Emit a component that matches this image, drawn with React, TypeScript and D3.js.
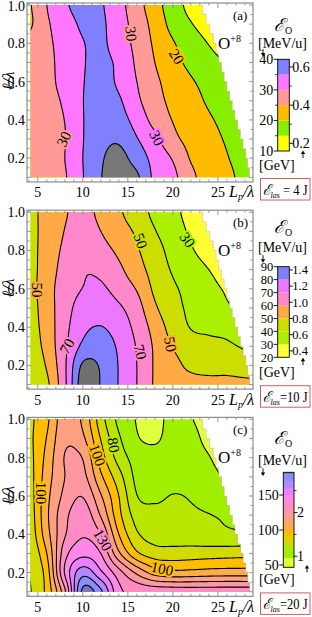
import React, { useMemo } from 'react';
import * as d3 from 'd3';

// sample points of the energy maps: L_p/λ columns, ℓ/λ rows (top to bottom)
const lpCols = [4, 6, 8, 10, 12, 14, 16, 18, 20, 22, 24, 26, 28, 30];
const ellRows = [1.0, 0.9, 0.8, 0.7, 0.6, 0.5, 0.4, 0.3, 0.2, 0.1];

// (a) E_las = 4 J, O+8 energy [MeV/u]
const gridA = [
  [24.5, 30, 34.2, 37, 35.5, 31.7, 27, 22, 17.4, 13.5, 11, 9, 8, 7],
  [24.2, 29.3, 32.6, 35.8, 35.8, 32.1, 28, 23.2, 18.4, 15.3, 12.5, 10, 8.5, 7.5],
  [26.5, 29, 32, 34.8, 35.8, 32.6, 28.6, 24.2, 20.4, 17.6, 14.8, 12.5, 10.5, 9],
  [27, 28.6, 32, 34.7, 36, 34, 29.2, 25, 21.6, 18.8, 16.6, 14.8, 13, 11.5],
  [27.2, 28.5, 31.8, 34.8, 36.6, 34.2, 30, 26, 23, 20.5, 18.4, 16.4, 14.6, 13],
  [27.4, 28.3, 30.8, 34.9, 37, 35.6, 31, 26.8, 23.8, 21.6, 19.4, 17.6, 16, 14.5],
  [27.5, 28.2, 30.1, 34.8, 37.5, 37, 33, 28.3, 24.8, 22.5, 20.5, 18.8, 17, 15.5],
  [27.6, 28, 29.8, 34.8, 38.5, 39.3, 35.3, 31.2, 26.4, 23.4, 21.3, 19.6, 18, 16.5],
  [27.6, 28, 30, 35, 39.4, 41.5, 37.8, 33.2, 29.6, 24.6, 22, 20.2, 18.6, 17.2],
  [27.5, 28, 29.6, 34.8, 39.8, 42.5, 40.8, 33.8, 31.2, 26.3, 22.5, 20.8, 19, 17.5],
];

// (b) E_las = 10 J
const gridB = [
  [46.5, 54, 59, 64, 57, 51.3, 45, 37.5, 32.4, 27, 23, 20, 18, 16],
  [46.5, 54, 60.3, 66, 60, 54, 48.5, 40.5, 34.5, 28.6, 24, 21, 19, 17],
  [46.5, 54.5, 61.8, 67, 63.5, 58, 51, 44, 36.5, 31, 26, 22.5, 20, 18],
  [46.5, 55, 63.5, 69.3, 68, 62, 54, 46, 39, 34.5, 30, 26, 23, 21],
  [46.5, 55.8, 65, 70.2, 71.5, 66, 59.3, 48, 41.5, 37, 32.5, 29, 26, 24],
  [46, 55.2, 66, 74, 76, 71.5, 64, 51.5, 43.5, 38, 34.5, 31.2, 28.5, 26],
  [45.5, 54.5, 67, 77.5, 80.3, 75.5, 67, 56, 46, 39.6, 38.5, 37.5, 35, 33],
  [44, 53.5, 68, 82, 85, 78.5, 69.3, 58.5, 49.5, 44, 42, 41.3, 39, 37],
  [42, 51, 68.5, 91.5, 89, 79.5, 70, 59, 53.5, 47.5, 46, 46.5, 45, 44],
  [40, 48, 68, 95, 89.5, 79.5, 70, 59, 55.5, 54, 53, 52.5, 52, 51.5],
];

// (c) E_las = 20 J
const gridC = [
  [88, 98, 116, 108, 84.5, 67.5, 59.5, 57, 63, 60.5, 56, 52, 50, 48],
  [88, 100.5, 118, 112, 89.5, 71.5, 61, 58.5, 64, 63, 57, 53, 51, 49],
  [87, 103, 120.5, 119.5, 95, 76, 66, 64, 65.5, 65, 60.5, 55, 52, 50],
  [86, 105, 120, 123, 102, 84, 67.5, 66, 67.5, 67, 63, 59, 55, 53],
  [85, 107, 122.5, 129.5, 111, 90, 70.3, 68.5, 70.3, 69.3, 66, 62, 58, 56],
  [84, 108, 127, 136, 119, 93, 76, 72.5, 73, 71.5, 70.3, 68.5, 66, 64],
  [83, 106, 129, 139, 130, 100, 81.5, 76, 75, 74.5, 73, 72, 71.5, 71],
  [81, 100, 136, 147, 140, 112, 92, 85, 84.5, 85, 85.5, 86, 86.5, 87],
  [80, 95, 141, 166, 152, 134, 118, 106, 103, 103.5, 104.5, 105, 105, 105],
  [79, 93, 128, 183, 172, 143, 138, 136.5, 136, 135.5, 135.5, 135.5, 135.5, 135.5],
];

const levelsA = [15, 20, 25, 30, 35, 40];
const colorsA = ['#ffff00', '#88ee00', '#ffbb00', '#ff9a96', '#ff77ff', '#8080ff', '#777777'];
const levelsB = [30, 40, 50, 60, 70, 80, 90];
const colorsB = ['#ffff33', '#aaf000', '#ccdd00', '#ffaa44', '#ff88cc', '#ee77ff', '#7f7fff', '#707070'];
const levelsC = [50, 60, 70, 80, 90, 100, 110, 120, 130, 140, 150, 160, 170, 180];
const colorsC = ['#eeff00', '#e0ff40', '#a0ee00', '#b8e600', '#d4da00', '#ffbf00', '#ffad4a', '#ffa080',
  '#ff98a0', '#ff8cc4', '#ff88ea', '#e880ff', '#b488ff', '#8c8cff', '#7878b8'];

// stepped upper-right border of the simulated region
const edgeEll = [1.0, 0.95, 0.9, 0.85, 0.8, 0.75, 0.7, 0.65, 0.6, 0.55, 0.5, 0.45, 0.4, 0.35, 0.3, 0.25, 0.2, 0.15];
const edgeLp = [23.3, 23.7, 24.1, 24.5, 24.8, 25.1, 25.4, 25.7, 26.0, 26.3, 26.6, 26.9, 27.2, 27.5, 27.8, 28.1, 28.3, 28.5];

const xTicks = [5, 10, 15, 20, 25];
const yTicks = [0.2, 0.4, 0.6, 0.8, 1.0];

type Lbl = { t: string; lp: number; ell: number; rot: number };
const labelsA: Lbl[] = [
  { t: '30', lp: 7.9, ell: 0.3, rot: -65 },
  { t: '30', lp: 15.35, ell: 0.85, rot: 85 },
  { t: '20', lp: 20.4, ell: 0.73, rot: 58 },
  { t: '30', lp: 18.2, ell: 0.305, rot: 62 },
];
const labelsB: Lbl[] = [
  { t: '50', lp: 4.9, ell: 0.594, rot: 90 },
  { t: '50', lp: 16.4, ell: 0.85, rot: 70 },
  { t: '30', lp: 21.6, ell: 0.855, rot: 55 },
  { t: '70', lp: 8.25, ell: 0.3, rot: -60 },
  { t: '70', lp: 16.35, ell: 0.27, rot: 75 },
  { t: '50', lp: 19.7, ell: 0.31, rot: 80 },
];
const labelsC: Lbl[] = [
  { t: '100', lp: 5.3, ell: 0.616, rot: 90 },
  { t: '100', lp: 11.6, ell: 0.814, rot: 70 },
  { t: '80', lp: 13.4, ell: 0.866, rot: 80 },
  { t: '130', lp: 12.2, ell: 0.37, rot: 60 },
  { t: '100', lp: 18.8, ell: 0.22, rot: 12 },
];

// colour bar axes: MeV/u on the left, GeV on the right
const cbLeftA = [10, 20, 30, 40];
const cbLeftMinorA = [15, 25, 35];
const cbRightA = [0.2, 0.4, 0.6];
const cbRightMinorA = [0.3, 0.5];
const cbLeftB = [20, 30, 40, 50, 60, 70, 80, 90];
const cbRightB = [0.4, 0.6, 0.8, 1.0, 1.2, 1.4];
const cbLeftC = [50, 100, 150];
const cbRightC = [1, 2];
const cbRightMinorC = [1.5, 2.5];

const energies = [' = 4 J', '=10 J', '=20 J'];
const tags = ['(a)', '(b)', '(c)'];

const FONT = "'Liberation Serif', 'Times New Roman', serif";
const K = 8;
const PAD = 3;

const xPlot = d3.scaleLinear().domain([3.8, 28.9]).range([27, 253]);

function cubic(p0: number, p1: number, p2: number, p3: number, t: number) {
  const t2 = t * t, t3 = t2 * t;
  return 0.5 * (2 * p1 + (-p0 + p2) * t + (2 * p0 - 5 * p1 + 4 * p2 - p3) * t2 + (-p0 + 3 * p1 - 3 * p2 + p3) * t3);
}

function makeSampler(grid: number[][]) {
  const ny = grid.length, nx = grid[0].length;
  const g = (r: number, c: number) => grid[Math.min(ny - 1, Math.max(0, r))][Math.min(nx - 1, Math.max(0, c))];
  return (fr: number, fc: number) => {
    fr = Math.max(0, Math.min(ny - 1, fr));
    fc = Math.max(0, Math.min(nx - 1, fc));
    const r = Math.min(Math.floor(fr), ny - 2), c = Math.min(Math.floor(fc), nx - 2);
    const tr = fr - r, tc = fc - c;
    const rv = [-1, 0, 1, 2].map(dr => cubic(g(r + dr, c - 1), g(r + dr, c), g(r + dr, c + 1), g(r + dr, c + 2), tc));
    return cubic(rv[0], rv[1], rv[2], rv[3], tr);
  };
}

const lpStep = lpCols[1] - lpCols[0];
const ellStep = ellRows[1] - ellRows[0];
const colOf = (lp: number) => (lp - lpCols[0]) / lpStep;
const rowOf = (ell: number) => (ell - ellRows[0]) / ellStep;

function buildField(grid: number[][], levels: number[]) {
  const sample = makeSampler(grid);
  const nx = grid[0].length, ny = grid.length;
  const W = (nx - 1) * K + 1 + 2 * PAD;
  const H = (ny - 1) * K + 1 + 2 * PAD;
  const values = new Array(W * H);
  for (let j = 0; j < H; j++) {
    for (let i = 0; i < W; i++) {
      values[j * W + i] = sample((j - PAD) / K, (i - PAD) / K);
    }
  }
  const contours = d3.contours().size([W, H]).thresholds(levels)(values);
  return { contours, sample };
}

type Cb = { x0: number; x1: number; y0: number; y1: number; lo: number; hi: number; lfs: number;
  left: number[]; leftMinor: number[]; right: number[]; rightMinor: number[]; fmt: (v: number) => string };

type Cfg = { idx: number; oy: number; grid: number[][]; levels: number[]; colors: string[]; labels: Lbl[];
  cb: Cb; titleY: number; mevY: number; downY: number; upY: number; upX: number };

const panels: Cfg[] = [
  { idx: 0, oy: 0, grid: gridA, levels: levelsA, colors: colorsA, labels: labelsA,
    cb: { x0: 277.7, x1: 289.3, y0: 59.3, y1: 151, lo: 10, hi: 40, lfs: 14, left: cbLeftA, leftMinor: cbLeftMinorA,
      right: cbRightA, rightMinor: cbRightMinorA, fmt: d3.format('.1f') },
    titleY: 31, mevY: 47.5, downY: 49, upY: 158, upX: 303 },
  { idx: 1, oy: 207.2, grid: gridB, levels: levelsB, colors: colorsB, labels: labelsB,
    cb: { x0: 277.7, x1: 289.3, y0: 59.5, y1: 150.1, lo: 20, hi: 90, lfs: 12.5, left: cbLeftB, leftMinor: [],
      right: cbRightB, rightMinor: [], fmt: d3.format('.1f') },
    titleY: 26, mevY: 45, downY: 48, upY: 158, upX: 303 },
  { idx: 2, oy: 414.4, grid: gridC, levels: levelsC, colors: colorsC, labels: labelsC,
    cb: { x0: 283.3, x1: 294, y0: 57.9, y1: 152.9, lo: 46.7, hi: 182.5, lfs: 14, left: cbLeftC, leftMinor: [],
      right: cbRightC, rightMinor: cbRightMinorC, fmt: d3.format('d') },
    titleY: 30, mevY: 51, downY: 54, upY: 158, upX: 307 },
];

const Panel: React.FC<{ cfg: Cfg }> = ({ cfg }) => {
  const { oy, levels, colors, cb } = cfg;
  const y = d3.scaleLinear().domain([0.1, 1.0]).range([oy + 177.35, oy + 5]);
  const fTop = y(1.0) - 2;
  const fBot = y(0.1) + 4.6;
  const field = useMemo(() => buildField(cfg.grid, levels), [cfg]);

  const proj = d3.geoTransform({
    point(px: number, py: number) {
      const lp = lpCols[0] + ((px - 0.5 - PAD) / K) * lpStep;
      const ell = ellRows[0] + ((py - 0.5 - PAD) / K) * ellStep;
      (this as any).stream.point(xPlot(lp), y(ell));
    },
  });
  const geo = d3.geoPath(proj);

  let mask = `M${xPlot(4.2)},${y(1.0)}`;
  let edge = `M${xPlot(edgeLp[0])},${y(1.0)}`;
  edgeEll.forEach((e, i) => {
    mask += `H${xPlot(edgeLp[i])}V${y(Math.max(0.1, e - 0.05))}`;
    edge += `V${y(Math.max(0.1, e - 0.05))}`;
    if (i + 1 < edgeLp.length) edge += `H${xPlot(edgeLp[i + 1])}`;
  });
  mask += `H${xPlot(4.2)}Z`;
  const clipId = `clip${cfg.idx}`;

  const cbY = d3.scaleLinear().domain([cb.lo, cb.hi]).range([oy + cb.y1, oy + cb.y0]);
  const bandEdges = [cb.lo, ...levels.filter(l => l > cb.lo && l < cb.hi), cb.hi];
  const firstBand = d3.bisectRight(levels, cb.lo);

  const lpMinor = d3.range(4, 29);
  const ellMinor = d3.range(0.1, 1.0001, 0.05);

  return (
    <g>
      <defs>
        <clipPath id={clipId}><path d={mask} /></clipPath>
      </defs>
      <g clipPath={`url(#${clipId})`}>
        <rect x={xPlot(4)} y={y(1.02)} width={xPlot(29) - xPlot(4)} height={y(0.08) - y(1.02)} fill={colors[0]} />
        {field.contours.map((c, i) => (
          <path key={'f' + i} d={geo(c as any) || ''} fill={colors[i + 1]} stroke="none" />
        ))}
        {field.contours.map((c, i) => (
          <path key={'l' + i} d={geo(c as any) || ''} fill="none" stroke="#000" strokeWidth={1.1} />
        ))}
        {cfg.labels.map((l, i) => {
          const v = field.sample(rowOf(l.ell), colOf(l.lp));
          const halo = colors[d3.bisectRight(levels, v)];
          return (
            <text key={'t' + i} transform={`translate(${xPlot(l.lp)},${y(l.ell)}) rotate(${l.rot})`}
              textAnchor="middle" dominantBaseline="central" fontFamily={FONT} fontSize={15}
              fill="#000" stroke={halo} strokeWidth={4} paintOrder="stroke">{l.t}</text>
          );
        })}
      </g>
      <path d={edge} fill="none" stroke="#e0a0c0" strokeWidth={0.8} strokeDasharray="1.5,1" />

      {/* frame and ticks */}
      <rect x={27} y={fTop} width={226} height={fBot - fTop} fill="none" stroke="#8c8c8c" strokeWidth={1.2} />
      {lpMinor.map(v => {
        const len = v % 5 === 0 ? 5 : 2.5;
        const xx = xPlot(v);
        return (
          <g key={'xt' + v} stroke="#8c8c8c" strokeWidth={0.9}>
            <line x1={xx} x2={xx} y1={fBot} y2={fBot - len} />
            <line x1={xx} x2={xx} y1={fTop} y2={fTop + len} />
          </g>
        );
      })}
      {ellMinor.map((v, i) => {
        const len = i % 2 === 0 ? 4 : 2.5;
        const yy = y(v);
        return (
          <g key={'yt' + i} stroke="#8c8c8c" strokeWidth={0.9}>
            <line x1={27} x2={27 + len} y1={yy} y2={yy} />
            <line x1={253} x2={253 - len} y1={yy} y2={yy} />
          </g>
        );
      })}
      {xTicks.map(v => (
        <text key={'xl' + v} x={xPlot(v)} y={fBot + 15.5} textAnchor="middle" fontFamily={FONT} fontSize={14}>{v}</text>
      ))}
      {yTicks.map(v => (
        <text key={'yl' + v} x={25} y={Math.max(y(v), 6.5)} dy="0.35em" textAnchor="end" fontFamily={FONT} fontSize={14}>{v.toFixed(1)}</text>
      ))}
      <text transform={`translate(14,${oy + 81}) rotate(-90)`} textAnchor="middle" fontFamily={FONT} fontSize={17} fontStyle="italic">ℓ/λ</text>
      <text x={229} y={fBot + 15.5} fontFamily={FONT} fontSize={16} fontStyle="italic">
        L<tspan fontSize={10} dy={3}>p</tspan><tspan dy={-3}>/λ</tspan>
      </text>
      <text x={233} y={oy + 19.5} fontFamily={FONT} fontSize={13}>{tags[cfg.idx]}</text>
      <text x={218} y={oy + 49} fontFamily={FONT} fontSize={17}>
        O<tspan fontSize={10} dy={-7}>+8</tspan>
      </text>

      {/* colour bar */}
      {bandEdges.slice(0, -1).map((lo, i) => (
        <rect key={'cb' + i} x={cb.x0} width={cb.x1 - cb.x0} y={cbY(bandEdges[i + 1])}
          height={cbY(lo) - cbY(bandEdges[i + 1])} fill={colors[firstBand + i]} />
      ))}
      <rect x={cb.x0} y={oy + cb.y0} width={cb.x1 - cb.x0} height={cb.y1 - cb.y0} fill="none" stroke="#000" strokeWidth={0.9} />
      {cb.left.map(v => (
        <g key={'cl' + v}>
          <line x1={cb.x0 - 4} x2={cb.x0} y1={cbY(v)} y2={cbY(v)} stroke="#000" strokeWidth={0.9} />
          <text x={cb.x0 - 4.5} y={cbY(v)} dy="0.35em" textAnchor="end" fontFamily={FONT} fontSize={cb.lfs}>{v}</text>
        </g>
      ))}
      {cb.leftMinor.map(v => (
        <line key={'cm' + v} x1={cb.x0 - 2.5} x2={cb.x0} y1={cbY(v)} y2={cbY(v)} stroke="#000" strokeWidth={0.8} />
      ))}
      {cb.right.map(v => (
        <g key={'cr' + v}>
          <line x1={cb.x1} x2={cb.x1 + 3.5} y1={cbY(v * 62.5)} y2={cbY(v * 62.5)} stroke="#000" strokeWidth={0.9} />
          <text x={cb.x1 + 3} y={cbY(v * 62.5)} dy="0.35em" fontFamily={FONT} fontSize={cb.lfs}>{cb.fmt(v)}</text>
        </g>
      ))}
      {cb.rightMinor.map(v => (
        <line key={'crm' + v} x1={cb.x1} x2={cb.x1 + 2.5} y1={cbY(v * 62.5)} y2={cbY(v * 62.5)} stroke="#000" strokeWidth={0.8} />
      ))}
      <text x={274} y={oy + cfg.titleY} fontFamily={FONT} fontSize={18} fontStyle="italic">
        ℰ<tspan fontSize={10} fontStyle="normal" dy={3}>O</tspan>
      </text>
      <text x={258} y={oy + cfg.mevY} fontFamily={FONT} fontSize={14}>[MeV/u]</text>
      <line x1={263} x2={263} y1={oy + cfg.downY} y2={oy + cfg.downY + 5} stroke="#000" strokeWidth={0.9} />
      <path d={`M${260.8},${oy + cfg.downY + 4}L${265.2},${oy + cfg.downY + 4}L${263},${oy + cfg.downY + 7.5}Z`} fill="#000" />
      <line x1={cfg.upX} x2={cfg.upX} y1={oy + cfg.upY} y2={oy + cfg.upY - 5} stroke="#000" strokeWidth={0.9} />
      <path d={`M${cfg.upX - 2.2},${oy + cfg.upY - 4}L${cfg.upX + 2.2},${oy + cfg.upY - 4}L${cfg.upX},${oy + cfg.upY - 7.5}Z`} fill="#000" />
      <text x={259} y={oy + 170} fontFamily={FONT} fontSize={14}>[GeV]</text>

      {/* laser energy box */}
      <rect x={260.5} y={oy + 178.5} width={49.5} height={21.5} fill="#fff" stroke="#d06060" strokeWidth={1} />
      <text x={262.5} y={oy + 194.5} fontFamily={FONT} fontSize={14} textLength={45} lengthAdjust="spacingAndGlyphs">
        <tspan fontStyle="italic" fontSize={15}>ℰ</tspan>
        <tspan fontStyle="italic" fontSize={9} dy={3}>las</tspan>
        <tspan dy={-3}>{energies[cfg.idx]}</tspan>
      </text>
    </g>
  );
};

export default function App() {
  return (
    <svg width={312} height={617} style={{ position: 'absolute', left: 0, top: 0, background: '#fff' }}>
      <rect width={312} height={617} fill="#fff" />
      {panels.map(p => <Panel key={p.idx} cfg={p} />)}
    </svg>
  );
}
